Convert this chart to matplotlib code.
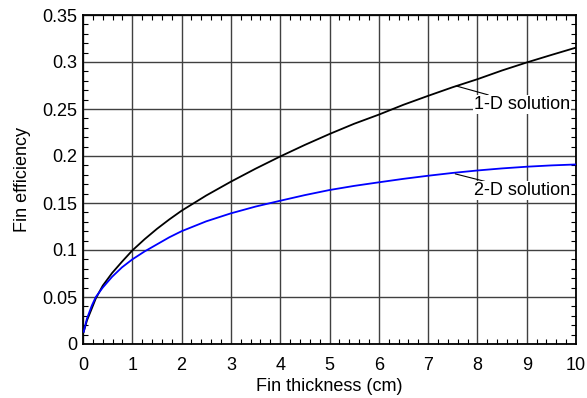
import matplotlib
matplotlib.use("Agg")
import matplotlib.pyplot as plt
from matplotlib.ticker import MultipleLocator, FixedLocator

plt.rcParams['font.family'] = ['Liberation Sans', 'DejaVu Sans']

thickness = [0.014, 0.08, 0.18, 0.26, 0.4, 0.59, 0.79, 1.0, 1.25, 1.5, 1.75, 2.0, 2.5, 3.0, 3.5,
             4.0, 4.5, 5.0, 5.5, 6.0, 6.5, 7.0, 7.5, 8.0, 8.5, 9.0, 9.5, 10.0]
eff_1d = [0.013, 0.025, 0.038, 0.0485, 0.062, 0.0755, 0.0875, 0.0995, 0.1115, 0.1225, 0.1325, 0.1418, 0.158, 0.1727, 0.1865,
          0.1995, 0.2118, 0.2234, 0.2343, 0.2440, 0.2545, 0.2640, 0.2732, 0.2817, 0.2910, 0.2995, 0.3075, 0.3153]
eff_2d = [0.013, 0.027, 0.041, 0.050, 0.060, 0.0715, 0.0815, 0.090, 0.0985, 0.106, 0.1135, 0.120, 0.1305, 0.139, 0.1462,
          0.1524, 0.1584, 0.1638, 0.1682, 0.1720, 0.1757, 0.1790, 0.1820, 0.1846, 0.1868, 0.1886, 0.1900, 0.1910]

x_ticks = [0, 1, 2, 3, 4, 5, 6, 7, 8, 9, 10]
y_ticks = [0, 0.05, 0.1, 0.15, 0.2, 0.25, 0.3, 0.35]
y_tick_labels = ['0', '0.05', '0.1', '0.15', '0.2', '0.25', '0.3', '0.35']

fig = plt.figure(figsize=(5.87, 3.98), dpi=100)
ax = fig.add_axes([83/587, 1-344/398, (576-83)/587, (344-15)/398])

ax.plot(thickness, eff_1d, color='black', lw=1.3, zorder=3)
ax.plot(thickness, eff_2d, color='#0000ff', lw=1.3, zorder=3)

ax.set_xlim(0, 10)
ax.set_ylim(0, 0.35)
ax.xaxis.set_major_locator(FixedLocator(x_ticks))
ax.yaxis.set_major_locator(FixedLocator(y_ticks))
ax.set_yticklabels(y_tick_labels)
ax.xaxis.set_minor_locator(MultipleLocator(0.2))
ax.yaxis.set_minor_locator(MultipleLocator(0.01))
ax.grid(True, which='major', color='#404040', lw=1.0, zorder=1)
ax.tick_params(which='both', direction='in', top=True, right=True, labelsize=13, color='black')
ax.tick_params(axis='x', which='major', length=0, pad=9)
ax.tick_params(axis='y', which='major', length=0, pad=4)
ax.tick_params(which='minor', length=3.5, width=0.8)
for s in ax.spines.values():
    s.set_linewidth(1.3)

ax.set_xlabel('Fin thickness (cm)', fontsize=13, labelpad=3)
ax.set_ylabel('Fin efficiency', fontsize=13, labelpad=8)

bbox = dict(boxstyle='square,pad=0.05', fc='white', ec='none')
ax.annotate('1-D solution', xy=(7.57, 0.2745), xytext=(7.93, 0.255),
            fontsize=13, va='center', ha='left', bbox=bbox, zorder=4,
            arrowprops=dict(arrowstyle='-', color='black', lw=0.8, shrinkA=0, shrinkB=0))
ax.annotate('2-D solution', xy=(7.55, 0.181), xytext=(7.93, 0.163),
            fontsize=13, va='center', ha='left', bbox=bbox, zorder=4,
            arrowprops=dict(arrowstyle='-', color='black', lw=0.8, shrinkA=0, shrinkB=0))

fig.savefig('out.png', dpi=100)
